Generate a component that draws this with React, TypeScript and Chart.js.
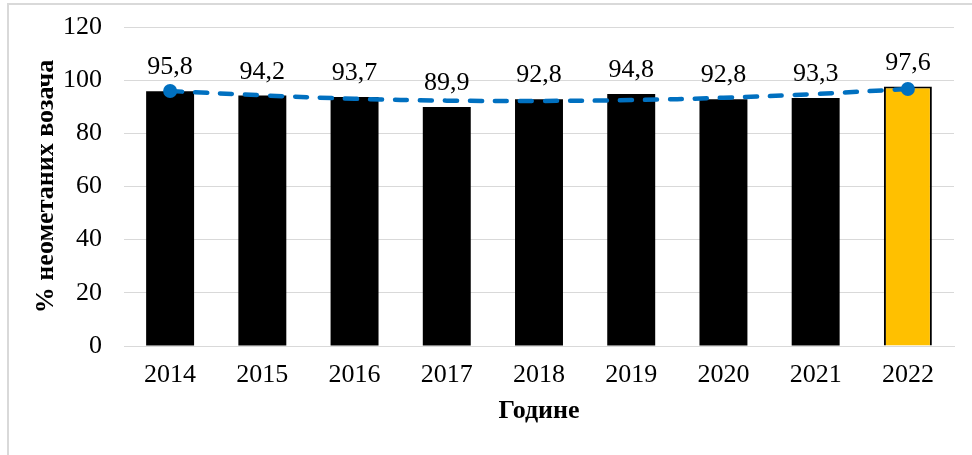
import React, { useEffect, useRef } from "react";
import { Chart, registerables } from "chart.js";

Chart.register(...registerables);

const years = ["2014", "2015", "2016", "2017", "2018", "2019", "2020", "2021", "2022"];
const shares = [95.8, 94.2, 93.7, 89.9, 92.8, 94.8, 92.8, 93.3, 97.6];
const trend = [95.9, 94.3, 93.0, 92.3, 92.2, 92.5, 93.4, 94.8, 96.7];
const barColors = ["#000000", "#000000", "#000000", "#000000", "#000000", "#000000", "#000000", "#000000", "#FFC000"];
const barBorders = [0, 0, 0, 0, 0, 0, 0, 0, 2];
const trendPointRadius = [7, 0, 0, 0, 0, 0, 0, 0, 7];
const yTicks = [0, 20, 40, 60, 80, 100, 120];

const FONT = "'Liberation Serif', 'Times New Roman', serif";

const labelPlugin = {
  id: "barValueLabels",
  afterDatasetsDraw(chart: any) {
    const meta = chart.getDatasetMeta(0);
    const ctx = chart.ctx;
    ctx.save();
    ctx.font = `26px ${FONT}`;
    ctx.fillStyle = "#000000";
    ctx.textAlign = "center";
    ctx.textBaseline = "alphabetic";
    meta.data.forEach((el: any, i: number) => {
      const txt = shares[i].toFixed(1).replace(".", ",");
      ctx.fillText(txt, el.x, el.y - 17);
    });
    ctx.restore();
  },
};

export default function App() {
  const ref = useRef<HTMLCanvasElement | null>(null);

  useEffect(() => {
    if (!ref.current) return;
    const chart = new Chart(ref.current, {
      type: "bar",
      data: {
        labels: years,
        datasets: [
          {
            type: "bar",
            data: shares,
            backgroundColor: barColors,
            borderColor: "#000000",
            borderWidth: barBorders,
            barPercentage: 0.52,
            categoryPercentage: 1,
            order: 1,
          } as any,
          {
            type: "line",
            data: trend,
            borderColor: "#0070C0",
            backgroundColor: "#0070C0",
            borderWidth: 4.5,
            borderDash: [12, 13],
            borderCapStyle: "round",
            tension: 0.4,
            pointRadius: trendPointRadius,
            pointHoverRadius: trendPointRadius,
            pointBackgroundColor: "#0070C0",
            pointBorderColor: "#0070C0",
            pointBorderWidth: 0,
            fill: false,
            order: 0,
          } as any,
        ],
      },
      options: {
        responsive: false,
        animation: false,
        layout: { padding: { top: 27, right: 18, left: 0, bottom: 0 } },
        plugins: {
          legend: { display: false },
          tooltip: { enabled: false },
        },
        scales: {
          x: {
            afterFit: (s: any) => {
              s.height = 109;
            },
            grid: { display: false, drawTicks: false },
            border: { display: true, color: "#d9d9d9", width: 1 },
            ticks: {
              color: "#000000",
              font: { family: FONT, size: 26 },
              padding: 14,
            },
            title: {
              display: true,
              text: "Године",
              color: "#000000",
              font: { family: FONT, size: 26, weight: "bold" },
              padding: { top: 0, bottom: 28 },
            },
          },
          y: {
            min: 0,
            max: 120,
            afterFit: (s: any) => {
              s.width = 124;
              s.paddingTop = 0;
              s.paddingBottom = 0;
            },
            afterBuildTicks: (s: any) => {
              s.ticks = yTicks.map((v) => ({ value: v }));
            },
            grid: { color: "#d9d9d9", lineWidth: 1, drawTicks: false },
            border: { display: false },
            ticks: {
              color: "#000000",
              font: { family: FONT, size: 26 },
              padding: 22,
            },
            title: {
              display: true,
              text: "% неометаних возача",
              color: "#000000",
              font: { family: FONT, size: 26, weight: "bold" },
              padding: { top: 31, bottom: 0 },
            },
          },
        },
      } as any,
      plugins: [labelPlugin],
    });
    return () => chart.destroy();
  }, []);

  return (
    <div style={{ position: "fixed", left: 0, top: 0, width: 972, height: 455, overflow: "hidden", background: "#ffffff" }}>
      <div
        style={{
          position: "absolute",
          left: 7,
          top: 3,
          width: 2000,
          height: 2000,
          border: "2px solid #d9d9d9",
          boxSizing: "border-box",
        }}
      />
      <canvas ref={ref} width={972} height={455} style={{ position: "absolute", left: 0, top: 0 }} />
    </div>
  );
}
